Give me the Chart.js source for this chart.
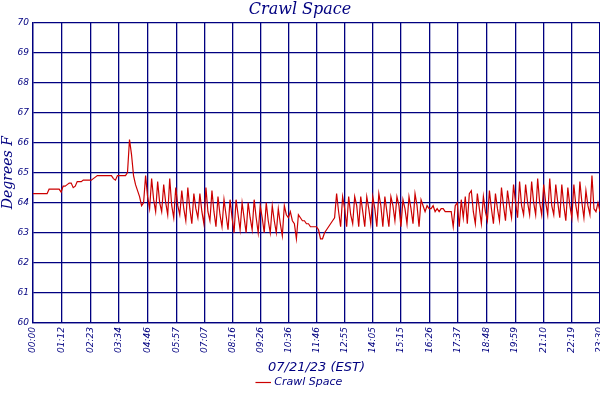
<!DOCTYPE html>
<html><head><meta charset="utf-8">
<script src="https://cdn.jsdelivr.net/npm/chart.js@4"></script>
<style>html,body{margin:0;padding:0;background:#fff}#w{width:600px;height:400px}</style>
</head><body><div id="w"><canvas id="c"></canvas></div>
<script>
const stepMinutes = 5;
const tickMinutes = [0,72,143,214,286,357,427,496,566,636,706,775,845,915,986,1057,1128,1199,1270,1339,1410];
const tickLabels = ["00:00","01:12","02:23","03:34","04:46","05:57","07:07","08:16","09:26","10:36","11:46","12:55","14:05","15:15","16:26","17:37","18:48","19:59","21:10","22:19","23:30"];
const yTicks = [60,61,62,63,64,65,66,67,68,69,70];
const temps = [
64.3,64.3,64.3,64.3,64.3,64.3,64.3,64.3,
64.45,64.45,64.45,64.45,64.45,64.45,64.35,
64.55,64.55,64.6,64.65,64.65,64.5,64.55,
64.7,64.7,64.7,64.75,64.75,64.75,64.75,64.75,
64.8,64.85,64.9,64.9,64.9,64.9,64.9,64.9,64.9,64.9,
64.8,64.75,64.9,64.9,64.9,64.9,64.9,65.0,
66.1,65.6,64.9,64.6,64.4,64.2,63.9,64.0,
64.9,64.2,63.8, 64.8,64.1,63.7, 64.7,64.0,63.7, 64.6,64.0,63.6, 64.8,63.9,63.5,
64.5,63.9,63.6, 64.4,63.8,63.4, 64.5,63.8,63.3, 64.3,63.8,63.5, 64.3,63.7,63.3,
64.5,63.7,63.4, 64.4,63.7,63.2, 64.2,63.6,63.2, 64.1,63.6,63.1, 64.1,63.5,63.0,
64.1,63.6,63.1, 64.0,63.5,63.0, 64.0,63.5,63.1, 64.1,63.5,63.0, 63.9,63.5,63.0,
64.0,63.4,63.0, 63.9,63.4,63.0, 63.8,63.3,62.9,
63.9,63.6,63.5,63.7,63.4,63.3,62.8,63.6,63.5,63.4,63.4,63.3,63.3,63.2,63.2,63.2,63.2,63.1,62.8,62.8,63.0,63.1,63.2,63.3,63.4,63.5,
64.3,63.7,63.2, 64.2,63.8,63.2, 64.2,63.6,63.3, 64.2,63.9,63.2, 64.2,63.7,63.2,
64.2,63.8,63.3, 64.2,63.8,63.2, 64.3,63.9,63.2, 64.2,63.7,63.2, 64.2,63.9,63.4,
64.2,63.9,63.2, 64.1,63.8,63.3, 64.2,63.8,63.3, 64.3,63.9,63.2, 64.1,63.9,63.7,
63.9,63.8,
63.8,63.9,63.7,63.8,63.7,63.8,63.8,63.7,63.7,63.7,63.7,63.2,63.9,64.0,63.2,64.1,63.5,64.2,63.3,64.3,
64.4,63.7,63.3, 64.3,63.8,63.3, 64.2,63.7,63.4, 64.4,63.8,63.3, 64.3,63.8,63.4,
64.5,63.9,63.4, 64.4,63.9,63.5, 64.6,64.0,63.5, 64.7,63.9,63.6, 64.6,64.0,63.6,
64.7,64.0,63.6, 64.8,64.0,63.6, 64.6,64.0,63.6, 64.8,63.9,63.6, 64.6,64.0,63.5,
64.6,63.9,63.4, 64.5,63.9,63.5, 64.6,63.9,63.5, 64.7,64.0,63.5, 64.4,63.9,63.6,
64.9,63.8,63.7, 64.0,63.7
];
const points = temps.map((v,i)=>({x:i*stepMinutes,y:v}));
const navy = '#000080';
const tf = {family:'DejaVu Sans', style:'italic', size:9};
new Chart(document.getElementById('c'),{
  type:'line',
  data:{datasets:[{label:'Crawl Space',data:points,borderColor:'#cc0000',backgroundColor:'#cc0000',borderWidth:1.2,pointRadius:0,tension:0}]},
  options:{
    responsive:true,maintainAspectRatio:false,animation:false,
    layout:{padding:{left:0,right:0,top:0,bottom:2}},
    plugins:{
      title:{display:true,text:'Crawl Space',color:navy,font:{family:'DejaVu Serif',style:'italic',weight:'normal',size:16},padding:{top:0,bottom:3}},
      legend:{position:'bottom',labels:{color:navy,font:{family:'DejaVu Sans',style:'italic',size:11},usePointStyle:true,pointStyle:'line',boxWidth:14,padding:2}},
      tooltip:{enabled:false}
    },
    scales:{
      x:{type:'linear',min:0,max:1410,
        afterBuildTicks:s=>{s.ticks=tickMinutes.map(v=>({value:v}));},
        afterFit:s=>{s.height=52;s.paddingRight=0;s.paddingLeft=0;},
        grid:{color:navy,lineWidth:1.3,drawTicks:false},
        border:{color:navy,width:1.3},
        ticks:{color:navy,font:tf,maxRotation:90,minRotation:90,autoSkip:false,padding:4,
          callback:(v,i)=>tickLabels[i]},
        title:{display:true,text:'07/21/23 (EST)',color:navy,font:{family:'DejaVu Sans',style:'italic',size:13},padding:{top:0,bottom:0}}
      },
      y:{min:60,max:70,
        afterBuildTicks:s=>{s.ticks=yTicks.map(v=>({value:v}));},
        afterFit:s=>{s.width=33;},
        grid:{color:navy,lineWidth:1.3,drawTicks:false},
        border:{color:navy,width:1.3},
        ticks:{color:navy,font:tf,padding:4},
        title:{display:true,text:'Degrees F',color:navy,font:{family:'DejaVu Serif',style:'italic',size:14},padding:{top:0,bottom:0}}
      }
    }
  }
});
</script></body></html>
